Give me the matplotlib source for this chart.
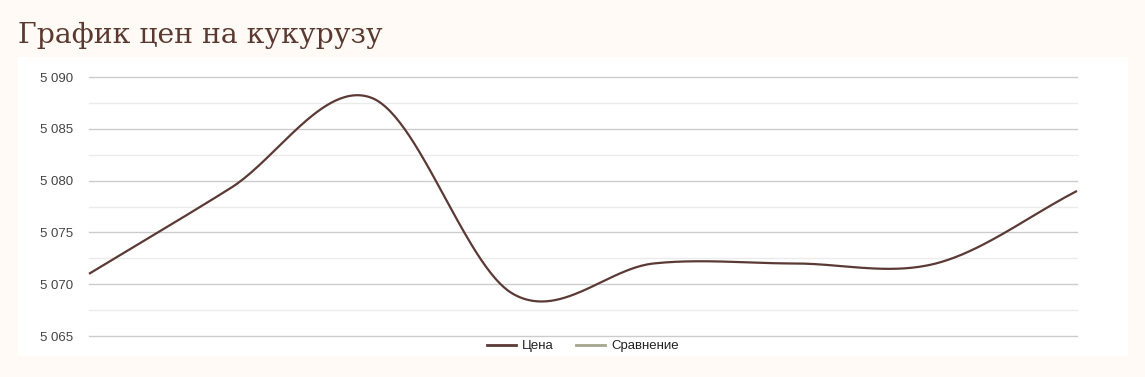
import numpy as np
import matplotlib
matplotlib.use("Agg")
import matplotlib.pyplot as plt
from matplotlib.patches import Rectangle
from matplotlib.lines import Line2D

# ---- data ----
title = "График цен на кукурузу"
series_names = ["Цена", "Сравнение"]
prices = [5071.0, 5079.25, 5088.0, 5069.1, 5072.0, 5072.0, 5072.0, 5079.0]
y_ticks = [5065, 5070, 5075, 5080, 5085, 5090]
y_minor = [5067.5, 5072.5, 5077.5, 5082.5, 5087.5]

W, H = 1145, 377
BG = "#fffaf6"
LINE_C = "#5b3a35"
CMP_C = "#a4a68e"

fig = plt.figure(figsize=(W / 100, H / 100), dpi=100)
fig.patch.set_facecolor(BG)

# white panel
fig.add_artist(Rectangle((18 / W, (H - 356) / H), 1110 / W, 299 / H,
                         transform=fig.transFigure, facecolor="white",
                         edgecolor="none", zorder=0))

ax = fig.add_axes([89 / W, (H - 336) / H, (1077 - 89) / W, (336 - 77) / H])
ax.set_facecolor("none")
for s in ax.spines.values():
    s.set_visible(False)

# smooth curve (Catmull-Rom through the data points)
x = np.arange(len(prices), dtype=float)
p = np.array(prices)
m = np.zeros_like(p)
m[1:-1] = (p[2:] - p[:-2]) / 2
m[0] = p[1] - p[0]
m[-1] = p[-1] - p[-2]
xs, ys = [], []
for i in range(len(p) - 1):
    t = np.linspace(0, 1, 60)
    h00 = 2 * t**3 - 3 * t**2 + 1
    h10 = t**3 - 2 * t**2 + t
    h01 = -2 * t**3 + 3 * t**2
    h11 = t**3 - t**2
    xs.append(x[i] + t)
    ys.append(h00 * p[i] + h10 * m[i] + h01 * p[i + 1] + h11 * m[i + 1])
ax.plot(np.concatenate(xs), np.concatenate(ys), color=LINE_C, lw=1.6,
        solid_capstyle="butt", zorder=3, clip_on=False)

ax.set_xlim(x[0], x[-1])
ax.set_ylim(y_ticks[0], y_ticks[-1])
ax.set_xticks([])
ax.set_yticks(y_ticks)
ax.set_yticks(y_minor, minor=True)
ax.set_yticklabels([f"{v:,}".replace(",", " ") for v in y_ticks],
                   fontsize=9.5, color="#444444", family="Liberation Sans")
ax.tick_params(axis="y", which="both", length=0, pad=11.5)
for v in y_ticks:
    ax.axhline(v, color="#cccccc", lw=1.0, zorder=1, clip_on=False)
for v in y_minor:
    ax.axhline(v, color="#ebebeb", lw=1.0, zorder=1, clip_on=False)

# title, fitted to the reference width
t = fig.text(18 / W, (H - 43) / H, title, family="DejaVu Serif", fontsize=22,
             color="#5a3a30", va="baseline", ha="left")
fig.canvas.draw()
bb = t.get_window_extent()
t.set_fontsize(22 * 363 / bb.width)

handles = [Line2D([], [], color=LINE_C, lw=2), Line2D([], [], color=CMP_C, lw=2)]
fig.legend(handles, series_names, loc="center",
           bbox_to_anchor=(583 / W, (H - 346) / H), ncol=2, frameon=False,
           prop={"family": "Liberation Sans", "size": 9.5},
           handlelength=2.2, handletextpad=0.45, columnspacing=1.7,
           labelcolor="#222222")

fig.savefig("out.png", dpi=100, facecolor=BG)
